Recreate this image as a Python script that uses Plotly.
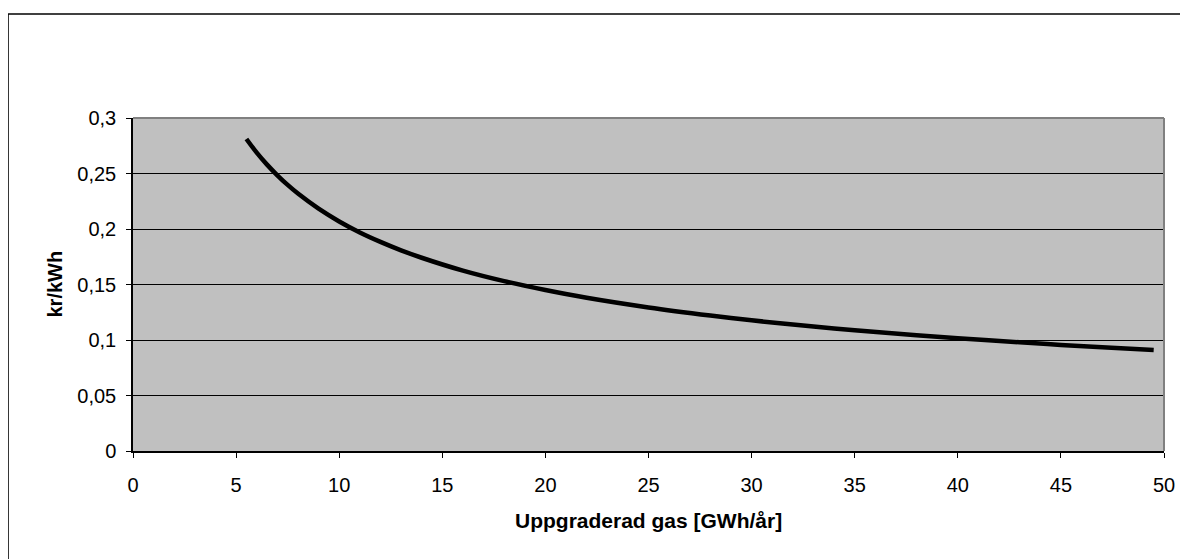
import plotly.graph_objects as go

x_vals = [5.5, 6, 6.5, 7, 7.5, 8, 9, 10, 11, 12, 13, 14, 16, 18, 20, 22, 25, 28, 30, 33, 35, 38, 40, 43, 45, 47, 49.5]
y_vals = [0.2811, 0.2688, 0.2580, 0.2484, 0.2397, 0.2319, 0.2183, 0.2068, 0.1969, 0.1884, 0.1808, 0.1741,
          0.1625, 0.1530, 0.1450, 0.1380, 0.1293, 0.1220, 0.1177, 0.1121, 0.1088, 0.1043, 0.1016, 0.0979,
          0.0956, 0.0935, 0.0911]
x_ticks = [0, 5, 10, 15, 20, 25, 30, 35, 40, 45, 50]
y_ticks = [0, 0.05, 0.1, 0.15, 0.2, 0.25, 0.3]
y_labels = ["0", "0,05", "0,1", "0,15", "0,2", "0,25", "0,3"]
x_title = "Uppgraderad gas [GWh/år]"
y_title = "kr/kWh"

fig = go.Figure()
fig.add_trace(go.Scatter(x=x_vals, y=y_vals, mode="lines",
                         line=dict(color="black", width=4.5, shape="spline", smoothing=1.0),
                         showlegend=False, hoverinfo="skip"))

font = "Liberation Sans, Arial, sans-serif"
fig.update_layout(
    width=1180, height=551,
    margin=dict(l=125, r=24, t=110, b=108),
    paper_bgcolor="white", plot_bgcolor="#C0C0C0",
    font=dict(family=font, size=20, color="black"),
    xaxis=dict(range=[0, 50], tickvals=x_ticks, ticks="outside", ticklen=5, tickcolor="black",
               showline=True, linecolor="black", linewidth=1.5, showgrid=False, zeroline=False,
               tickfont=dict(size=20), ticklabelstandoff=10),
    yaxis=dict(range=[0, 0.3], tickvals=y_ticks, ticktext=y_labels, ticks="outside", ticklen=5,
               tickcolor="black", showline=True, linecolor="black", linewidth=1.5,
               showgrid=True, gridcolor="black", gridwidth=1, zeroline=False,
               tickfont=dict(size=20), ticklabelstandoff=6),
    annotations=[
        dict(text="<b>" + x_title + "</b>", xref="paper", yref="paper", x=0.5, y=0,
             xanchor="center", yanchor="middle", yshift=-69, showarrow=False, font=dict(size=21)),
        dict(text="<b>" + y_title + "</b>", xref="paper", yref="paper", x=0, y=0.5,
             xanchor="center", yanchor="middle", xshift=-79, textangle=-90, showarrow=False,
             font=dict(size=20)),
    ],
    shapes=[
        dict(type="line", xref="paper", yref="paper", x0=0, x1=1, y0=1, y1=1,
             line=dict(color="#808080", width=2), layer="above"),
        dict(type="line", xref="paper", yref="paper", x0=1, x1=1, y0=0, y1=1,
             line=dict(color="#808080", width=2), layer="above"),
        dict(type="line", xref="paper", yref="paper", x0=-0.1212, x1=1.05, y0=1.3123, y1=1.3123,
             line=dict(color="black", width=1.5), layer="above"),
        dict(type="line", xref="paper", yref="paper", x0=-0.1212, x1=-0.1212, y0=-0.4, y1=1.3123,
             line=dict(color="black", width=1.5), layer="above"),
    ],
)

fig.write_html("out.html")
